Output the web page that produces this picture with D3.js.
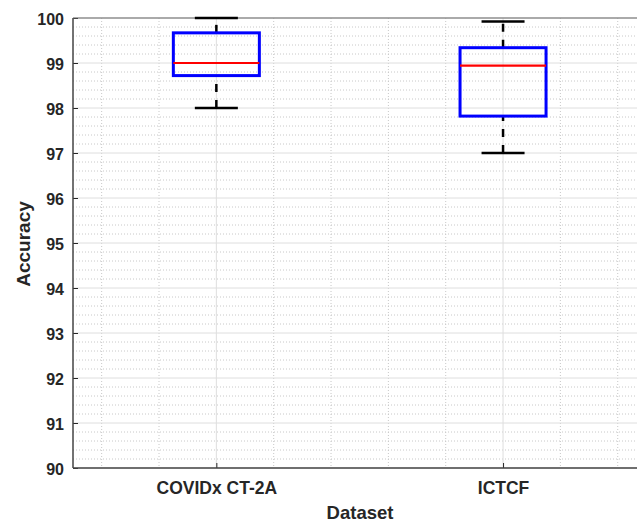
<!DOCTYPE html>
<html><head><meta charset="utf-8">
<script src="https://cdn.jsdelivr.net/npm/d3@7"></script>
<style>body{margin:0;background:#fff}svg{display:block}text{font-family:"Liberation Sans",Arial,sans-serif;font-weight:bold;fill:#262626}</style>
</head><body>
<svg id="c" width="637" height="523"></svg>
<script>
const categories = ["COVIDx CT-2A", "ICTCF"];
const whiskerLow = [98.0, 97.0];
const q1 = [98.72, 97.82];
const median = [99.0, 98.94];
const q3 = [99.67, 99.34];
const whiskerHigh = [100.0, 99.92];
const yTicks = [90, 91, 92, 93, 94, 95, 96, 97, 98, 99, 100];

const svg = d3.select("#c");
const L = 73, T = 18, B = 468;
const x = d3.scaleLinear().domain([0.5, 2.5]).range([L, L + 573.4]);
const y = d3.scaleLinear().domain([90, 100]).range([B, T]);
const R = x(2.5);

// minor grid
const minorY = d3.range(90, 100.001, 0.2).filter(v => Math.abs(v - Math.round(v)) > 1e-6);
const minorX = d3.range(0.6, 2.5, 0.2).filter(v => Math.abs(v - Math.round(v)) > 1e-6);
const g = svg.append("g");
g.selectAll(".my").data(minorY).join("line")
  .attr("x1", L).attr("x2", R).attr("y1", d => y(d)).attr("y2", d => y(d))
  .attr("stroke", "#c8c8c8").attr("stroke-width", 1).attr("stroke-dasharray", "1,2");
g.selectAll(".mx").data(minorX).join("line")
  .attr("y1", T).attr("y2", B).attr("x1", d => x(d)).attr("x2", d => x(d))
  .attr("stroke", "#c8c8c8").attr("stroke-width", 1).attr("stroke-dasharray", "1,2");
// major grid
g.selectAll(".Y").data(yTicks).join("line")
  .attr("x1", L).attr("x2", R).attr("y1", d => y(d)).attr("y2", d => y(d))
  .attr("stroke", "#dedede").attr("stroke-width", 1);
g.selectAll(".X").data([1, 2]).join("line")
  .attr("y1", T).attr("y2", B).attr("x1", d => x(d)).attr("x2", d => x(d))
  .attr("stroke", "#dedede").attr("stroke-width", 1);

// axes
const yAxis = d3.axisLeft(y).tickValues(yTicks).tickSize(-5).tickPadding(9).tickFormat(d3.format("d"));
const ya = svg.append("g").attr("transform", `translate(${L},0)`).call(yAxis);
ya.select(".domain").remove();
ya.selectAll("line").attr("stroke", "#262626");
ya.selectAll("text").attr("font-size", 16).attr("fill", "#262626").attr("dy", "0.4em");
const xAxis = d3.axisBottom(x).tickValues([1, 2]).tickSize(-5).tickPadding(14).tickFormat(d => categories[d - 1]);
const xa = svg.append("g").attr("transform", `translate(0,${B})`).call(xAxis);
xa.select(".domain").remove();
xa.selectAll("line").attr("stroke", "#262626");
xa.selectAll("text").attr("font-size", 17.5).attr("fill", "#262626");

svg.append("line").attr("x1", L).attr("x2", L).attr("y1", T).attr("y2", B).attr("stroke", "#444").attr("stroke-width", 1.5);
svg.append("line").attr("x1", L).attr("x2", R).attr("y1", B).attr("y2", B).attr("stroke", "#444").attr("stroke-width", 1.5);
svg.append("line").attr("x1", L).attr("x2", R).attr("y1", T).attr("y2", T).attr("stroke", "#666").attr("stroke-width", 1.2);

// boxes
const idx = d3.range(categories.length);
const bw = 0.3, cw = 0.15;
const bx = svg.append("g");
idx.forEach(i => {
  const c = i + 1;
  [[whiskerLow[i], q1[i]], [q3[i], whiskerHigh[i]]].forEach(([a, b]) => {
    bx.append("line").attr("x1", x(c)).attr("x2", x(c)).attr("y1", y(a)).attr("y2", y(b))
      .attr("stroke", "#000").attr("stroke-width", 2.5).attr("stroke-dasharray", "8,8");
  });
  [whiskerLow[i], whiskerHigh[i]].forEach(v => {
    bx.append("line").attr("x1", x(c - cw / 2)).attr("x2", x(c + cw / 2)).attr("y1", y(v)).attr("y2", y(v))
      .attr("stroke", "#000").attr("stroke-width", 2.5);
  });
  bx.append("rect").attr("x", x(c - bw / 2)).attr("width", x(c + bw / 2) - x(c - bw / 2))
    .attr("y", y(q3[i])).attr("height", y(q1[i]) - y(q3[i]))
    .attr("fill", "none").attr("stroke", "#0000ff").attr("stroke-width", 3);
  bx.append("line").attr("x1", x(c - bw / 2)).attr("x2", x(c + bw / 2)).attr("y1", y(median[i])).attr("y2", y(median[i]))
    .attr("stroke", "#ff0000").attr("stroke-width", 2.2);
});

// labels
svg.append("text").attr("x", 360).attr("y", 519).attr("text-anchor", "middle").attr("font-size", 18.5).text("Dataset");
svg.append("text").attr("transform", "translate(30,244) rotate(-90)").attr("text-anchor", "middle").attr("font-size", 19).text("Accuracy");
</script>
</body></html>
